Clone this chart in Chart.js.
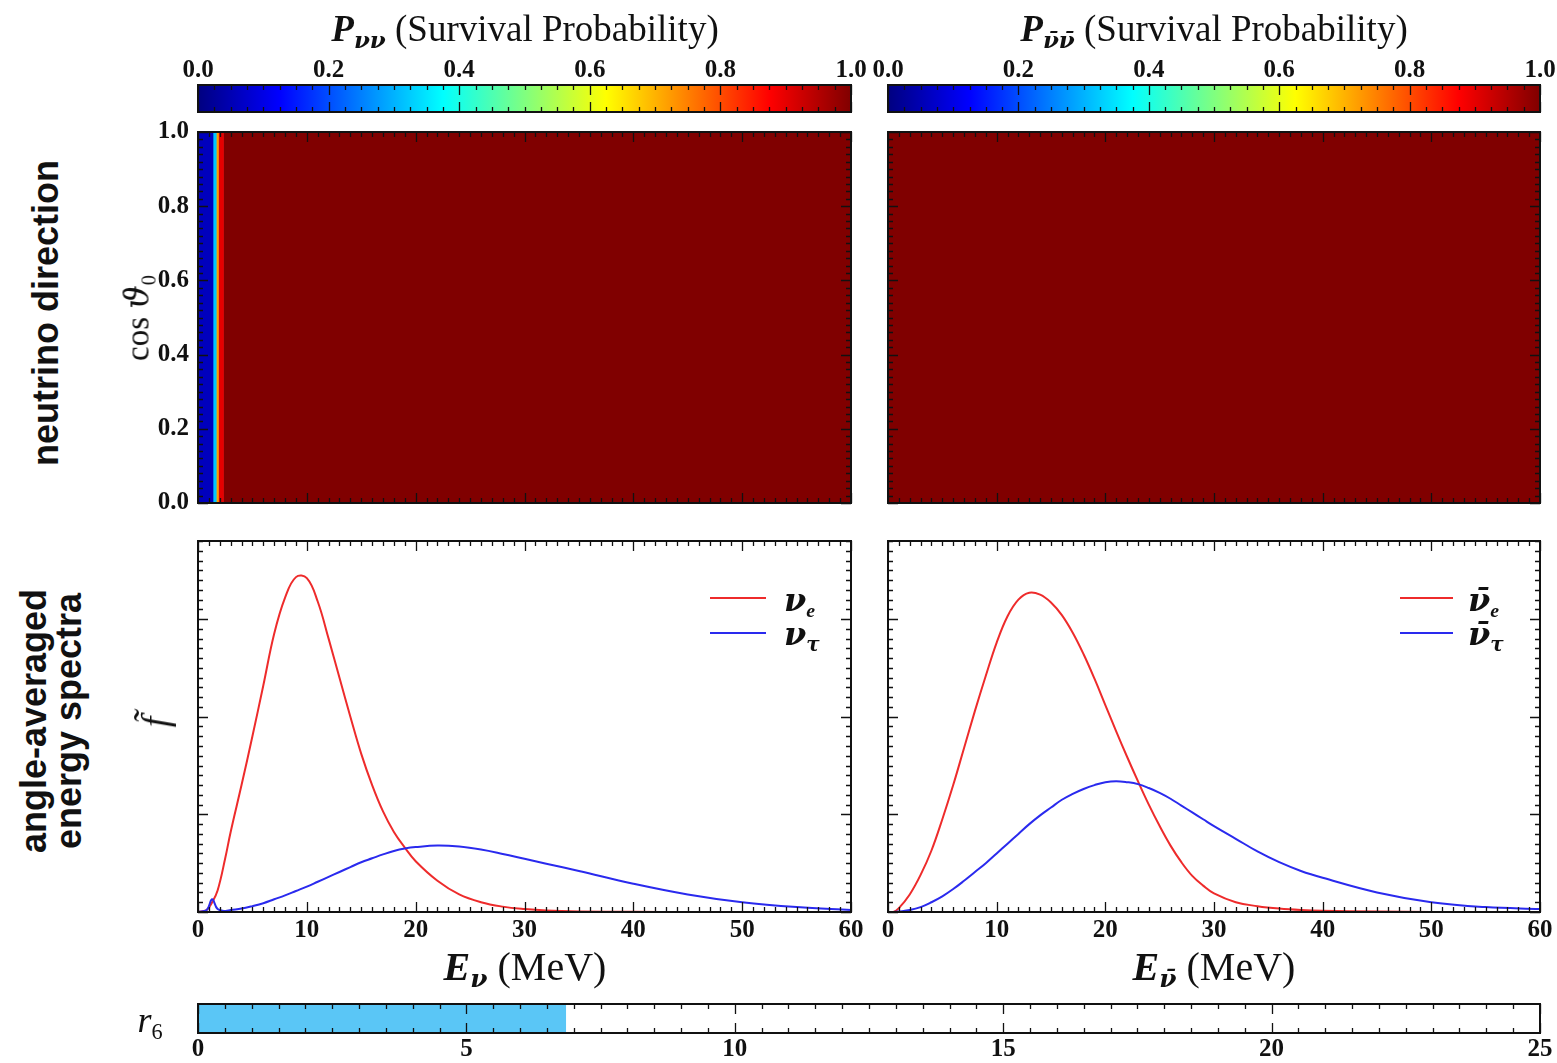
<!DOCTYPE html>
<html>
<head>
<meta charset="utf-8">
<script src="https://cdn.jsdelivr.net/npm/chart.js@4.4.1/dist/chart.umd.min.js"></script>
<style>
  html, body { margin: 0; padding: 0; background: #fff; }
  #page { position: relative; width: 1557px; height: 1063px; overflow: hidden; color: #111; }
  canvas { position: absolute; }
  .t { position: absolute; white-space: nowrap; font-family: "Liberation Serif", "DejaVu Serif", serif; }
  .c { transform: translate(-50%, -50%); }
  .rot { transform: translate(-50%, -50%) rotate(-90deg); }
  .sans { font-family: "Liberation Sans", Arial, sans-serif; font-weight: bold; text-align: center; }
  .bi { font-weight: bold; font-style: italic; }
  .gr { font-family: "DejaVu Serif", serif; }
  sub { font-size: 0.62em; vertical-align: -0.32em; line-height: 0; }
  .title { font-size: 37px; }
  .axt { font-size: 40px; }
  .leg { font-size: 32px; }
  .line { position: absolute; height: 2px; }
</style>
</head>
<body>
<div id="page">
  <canvas id="cbL" width="720" height="80" style="left:150px;top:40px"></canvas>
  <canvas id="cbR" width="717" height="80" style="left:840px;top:40px"></canvas>
  <canvas id="hmL" width="770" height="421" style="left:100px;top:107px"></canvas>
  <canvas id="hmR" width="697" height="421" style="left:860px;top:107px"></canvas>
  <canvas id="spL" width="770" height="440" style="left:100px;top:525px"></canvas>
  <canvas id="spR" width="697" height="440" style="left:860px;top:525px"></canvas>
  <canvas id="r6" width="1407" height="73" style="left:150px;top:990px"></canvas>

  <div class="t c title" style="left:525px;top:28px"><span class="bi">P</span><sub class="bi gr">&nu;&nu;</sub> (Survival Probability)</div>
  <div class="t c title" style="left:1214px;top:28px"><span class="bi">P</span><sub class="bi gr">&nu;&#772;&nu;&#772;</sub> (Survival Probability)</div>

  <div class="t sans rot" style="left:46px;top:313px;font-size:36px">neutrino direction</div>
  <div class="t sans rot" style="left:51px;top:721px;font-size:36px;line-height:35px">angle-averaged<br>energy spectra</div>

  <div class="t rot" style="left:137px;top:318px;font-size:33px">cos <i class="gr">&#977;</i><sub>0</sub></div>
  <div class="t rot" style="left:155px;top:722px;font-size:38px"><i>f&#771;</i></div>

  <div class="t c axt" style="left:525px;top:966px"><span class="bi">E</span><sub class="bi gr">&nu;</sub> (MeV)</div>
  <div class="t c axt" style="left:1214px;top:966px"><span class="bi">E</span><sub class="bi gr">&nu;&#772;</sub> (MeV)</div>

  <div class="line" style="left:710px;top:597px;width:56px;background:#ee2b2b"></div>
  <div class="line" style="left:710px;top:632px;width:56px;background:#2a2aee"></div>
  <div class="t leg" style="left:784px;top:581px"><span class="bi gr">&nu;</span><sub class="bi">e</sub></div>
  <div class="t leg" style="left:784px;top:615px"><span class="bi gr">&nu;</span><sub class="bi gr">&tau;</sub></div>

  <div class="line" style="left:1400px;top:597px;width:53px;background:#ee2b2b"></div>
  <div class="line" style="left:1400px;top:632px;width:53px;background:#2a2aee"></div>
  <div class="t leg" style="left:1468px;top:581px"><span class="bi gr">&nu;&#772;</span><sub class="bi">e</sub></div>
  <div class="t leg" style="left:1468px;top:615px"><span class="bi gr">&nu;&#772;</span><sub class="bi gr">&tau;</sub></div>

  <div class="t c" style="left:150px;top:1020px;font-size:36px"><i>r</i><sub>6</sub></div>
</div>

<script>
// 색상 막대 눈금
const cbarTicks = [0, 0.2, 0.4, 0.6, 0.8, 1.0];
const cbarStops = [0, 0.125, 0.375, 0.625, 0.875, 1];

// 생존 확률 (에너지 구간 경계와 값)
const heatEdgesNu = [0, 1.38, 1.68, 1.88, 2.34, 60];
const heatProbNu = [0.06, 0.32, 0.72, 0.9, 1.0];
const heatEdgesNubar = [0, 60];
const heatProbNubar = [1.0];

// 각도 평균 에너지 스펙트럼 (neutrino)
const energyNu = [0, 0.8, 1.3, 1.8, 2.5, 3, 4, 5, 6, 7, 8, 9, 10, 11, 12, 13, 14, 15, 16, 17, 18, 19, 20,
  22, 24, 26, 28, 30, 32, 35, 40, 45, 50, 55, 60];
const specNuE = [0, 0.02, 0.1, 0.22, 0.55, 0.82, 1.3, 1.8, 2.32, 2.85, 3.22, 3.43, 3.42, 3.18, 2.8, 2.4, 2.0,
  1.62, 1.3, 1.03, 0.82, 0.66, 0.52, 0.32, 0.18, 0.1, 0.055, 0.03, 0.015, 0.006, 0.002, 0, 0, 0, 0];
const specNuTau = [0, 0.02, 0.13, 0.03, 0.01, 0.02, 0.035, 0.06, 0.09, 0.13, 0.17, 0.215, 0.26, 0.31, 0.36, 0.41,
  0.46, 0.51, 0.55, 0.59, 0.625, 0.65, 0.665, 0.68, 0.67, 0.64, 0.595, 0.545, 0.495, 0.42, 0.29, 0.18, 0.1, 0.05, 0.02];

// 각도 평균 에너지 스펙트럼 (antineutrino)
const energyNubar = [0, 0.5, 1, 2, 3, 4, 5, 6, 7, 8, 9, 10, 11, 12, 13, 14, 15, 16, 17, 18, 19, 20,
  21, 22, 23, 24, 25, 26, 27, 28, 29, 30, 32, 34, 36, 38, 40, 45, 50, 55, 60];
const specNubarE = [0, 0, 0.04, 0.18, 0.38, 0.63, 0.95, 1.3, 1.68, 2.06, 2.42, 2.76, 3.03, 3.2, 3.27, 3.25,
  3.17, 3.04, 2.86, 2.64, 2.39, 2.12, 1.85, 1.59, 1.34, 1.1, 0.88, 0.68, 0.51, 0.37, 0.27, 0.19,
  0.1, 0.06, 0.035, 0.02, 0.012, 0.004, 0.001, 0, 0];
const specNubarTau = [0, 0, 0.005, 0.02, 0.05, 0.1, 0.16, 0.235, 0.32, 0.41, 0.5, 0.6, 0.7, 0.8, 0.9, 0.99,
  1.07, 1.15, 1.21, 1.26, 1.3, 1.33, 1.34, 1.33, 1.31, 1.27, 1.22, 1.16, 1.09, 1.02, 0.95, 0.88,
  0.75, 0.62, 0.51, 0.42, 0.35, 0.2, 0.1, 0.05, 0.03];

// r6 진행 막대
const r6Value = 6.85;
const r6Ticks = [0, 5, 10, 15, 20, 25];

const RED = '#ee2b2b';
const BLUE = '#2a2aee';

Chart.defaults.font.family = '"Liberation Serif", "DejaVu Serif", serif';
Chart.defaults.font.size = 25;
Chart.defaults.font.weight = 'bold';
Chart.defaults.color = '#111';

// jet 컬러맵
function jet(v) {
    const c = x => Math.round(255 * Math.max(0, Math.min(1, x)));
    return `rgb(${c(1.5 - Math.abs(4 * v - 3))},${c(1.5 - Math.abs(4 * v - 2))},${c(1.5 - Math.abs(4 * v - 1))})`;
}

// 안쪽 눈금 + 테두리
const innerTicks = {
    id: 'innerTicks',
    afterDatasetsDraw(chart, args, opts) {
        const { ctx, chartArea: a } = chart;
        const isMajor = (v, m) => Math.abs(v / m - Math.round(v / m)) < 1e-6;
        ctx.save();
        ctx.strokeStyle = '#111';
        ctx.lineWidth = 1.3;
        ctx.beginPath();
        if (opts.x) {
            const s = chart.scales[opts.x.scale];
            const n = Math.round((s.max - s.min) / opts.x.minor);
            for (let i = 0; i <= n; i++) {
                const v = s.min + i * opts.x.minor;
                const len = isMajor(v, opts.x.major) ? 10 : 5;
                const px = Math.round(s.getPixelForValue(v)) + 0.5;
                ctx.moveTo(px, a.top); ctx.lineTo(px, a.top + len);
                ctx.moveTo(px, a.bottom); ctx.lineTo(px, a.bottom - len);
            }
        }
        if (opts.y) {
            const s = chart.scales[opts.y.scale];
            const n = Math.round((s.max - s.min) / opts.y.minor);
            for (let i = 0; i <= n; i++) {
                const v = s.min + i * opts.y.minor;
                const len = isMajor(v, opts.y.major) ? 10 : 5;
                const py = Math.round(s.getPixelForValue(v)) + 0.5;
                ctx.moveTo(a.left, py); ctx.lineTo(a.left + len, py);
                ctx.moveTo(a.right, py); ctx.lineTo(a.right - len, py);
            }
        }
        ctx.stroke();
        ctx.lineWidth = 2;
        ctx.strokeRect(a.left, a.top, a.right - a.left, a.bottom - a.top);
        ctx.restore();
    }
};
Chart.register(innerTicks);

const noPlugins = { legend: { display: false }, tooltip: { enabled: false } };
const noGrid = { display: false, drawTicks: false };

// 색상 막대
function makeColorbar(id, padLeft, padRight) {
    new Chart(document.getElementById(id), {
        type: 'bar',
        data: {
            labels: ['P'],
            datasets: [{
                data: [[cbarTicks[0], cbarTicks[cbarTicks.length - 1]]],
                backgroundColor: (c) => {
                    const chart = c.chart;
                    if (!chart.chartArea) return jet(0.5);
                    const s = chart.scales.x;
                    const g = chart.ctx.createLinearGradient(s.getPixelForValue(0), 0, s.getPixelForValue(1), 0);
                    cbarStops.forEach(v => g.addColorStop(v, jet(v)));
                    return g;
                },
                borderWidth: 0,
                barPercentage: 1,
                categoryPercentage: 1
            }]
        },
        options: {
            indexAxis: 'y',
            responsive: false,
            animation: false,
            layout: { padding: { left: padLeft, right: padRight, top: 0, bottom: 8 } },
            plugins: { ...noPlugins, innerTicks: { x: { scale: 'x', minor: 0.025, major: 0.2 } } },
            scales: {
                x: {
                    type: 'linear', position: 'top', min: 0, max: 1,
                    grid: noGrid, border: { display: false },
                    afterBuildTicks: s => { s.ticks = cbarTicks.map(v => ({ value: v })); },
                    ticks: { padding: -1, autoSkip: false, maxRotation: 0, callback: v => v.toFixed(1) },
                    afterFit: s => { s.height = 45; }
                },
                y: { display: false }
            }
        }
    });
}

// 생존 확률 히트맵
function makeHeatmap(id, edges, probs, padLeft, padRight, showLabels) {
    const datasets = probs.map((p, i) => ({
        data: [[edges[i], edges[i + 1]]],
        backgroundColor: jet(p),
        borderWidth: 0,
        barPercentage: 1,
        categoryPercentage: 1,
        grouped: false
    }));
    const y2 = {
        type: 'linear', position: 'left', min: 0, max: 1, offset: false, display: showLabels,
        grid: noGrid, border: { display: false },
        ticks: { stepSize: 0.2, padding: 9, callback: v => v.toFixed(1) }
    };
    if (showLabels) y2.afterFit = s => { s.width = 98; };
    new Chart(document.getElementById(id), {
        type: 'bar',
        data: { labels: ['cos'], datasets },
        options: {
            indexAxis: 'y',
            responsive: false,
            animation: false,
            layout: { padding: { left: padLeft, right: padRight, top: 25, bottom: 25 } },
            plugins: {
                ...noPlugins,
                innerTicks: { x: { scale: 'x', minor: 1, major: 10 }, y: { scale: 'y2', minor: 0.02, major: 0.2 } }
            },
            scales: {
                x: { type: 'linear', min: 0, max: 60, display: false },
                y: { display: false },
                y2
            }
        }
    });
}

// 에너지 스펙트럼
function makeSpectrum(id, energy, red, blue, padLeft, padRight) {
    const pts = arr => energy.map((e, i) => ({ x: e, y: arr[i] }));
    const line = (arr, color) => ({
        data: pts(arr),
        borderColor: color,
        borderWidth: 2,
        pointRadius: 0,
        fill: false,
        tension: 0.4
    });
    new Chart(document.getElementById(id), {
        type: 'line',
        data: { datasets: [line(blue, BLUE), line(red, RED)] },
        options: {
            responsive: false,
            animation: false,
            layout: { padding: { left: padLeft, right: padRight, top: 16, bottom: 13 } },
            plugins: {
                ...noPlugins,
                innerTicks: { x: { scale: 'x', minor: 1, major: 10 }, y: { scale: 'y', minor: 0.1, major: 1 } }
            },
            scales: {
                x: {
                    type: 'linear', min: 0, max: 60,
                    grid: noGrid, border: { display: false },
                    ticks: { stepSize: 10, padding: 4, maxRotation: 0 },
                    afterFit: s => { s.height = 40; }
                },
                y: { type: 'linear', min: 0, max: 3.8, display: false }
            }
        }
    });
}

// r6 막대
function makeR6() {
    new Chart(document.getElementById('r6'), {
        type: 'bar',
        data: {
            labels: ['r6'],
            datasets: [{
                data: [[0, r6Value]],
                backgroundColor: '#5ac6f6',
                borderWidth: 0,
                barPercentage: 1,
                categoryPercentage: 1
            }]
        },
        options: {
            indexAxis: 'y',
            responsive: false,
            animation: false,
            layout: { padding: { left: 48, right: 17, top: 14, bottom: 0 } },
            plugins: { ...noPlugins, innerTicks: { x: { scale: 'x', minor: 0.5, major: 5 } } },
            scales: {
                x: {
                    type: 'linear', min: 0, max: 25,
                    grid: noGrid, border: { display: false },
                    afterBuildTicks: s => { s.ticks = r6Ticks.map(v => ({ value: v })); },
                    ticks: { padding: 2, autoSkip: false, maxRotation: 0 },
                    afterFit: s => { s.height = 30; }
                },
                y: { display: false }
            }
        }
    });
}

makeColorbar('cbL', 48, 19);
makeColorbar('cbR', 48, 17);
makeHeatmap('hmL', heatEdgesNu, heatProbNu, 0, 19, true);
makeHeatmap('hmR', heatEdgesNubar, heatProbNubar, 28, 17, false);
makeSpectrum('spL', energyNu, specNuE, specNuTau, 98, 19);
makeSpectrum('spR', energyNubar, specNubarE, specNubarTau, 28, 17);
makeR6();
</script>
</body>
</html>
